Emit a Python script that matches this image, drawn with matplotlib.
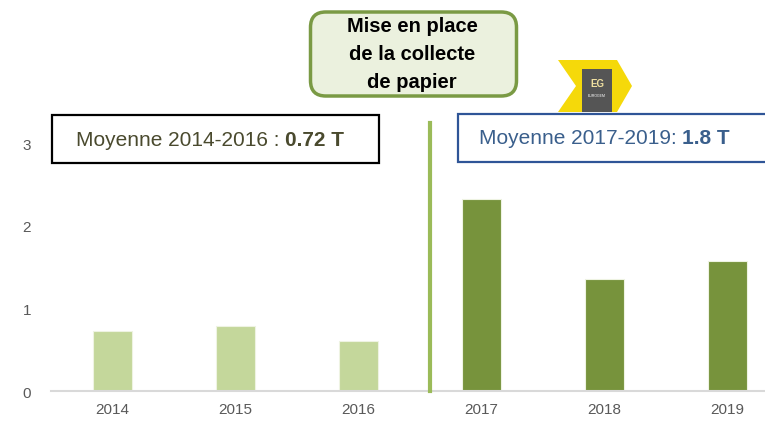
import numpy as np
import matplotlib
matplotlib.use("Agg")
import matplotlib.pyplot as plt
from matplotlib.patches import FancyBboxPatch, Rectangle, Polygon

years = ["2014", "2015", "2016", "2017", "2018", "2019"]
tonnes = [0.73, 0.79, 0.61, 2.33, 1.36, 1.58]
bar_colors = ["#c4d79b", "#c4d79b", "#c4d79b", "#77933c", "#77933c", "#77933c"]
yticks = [0, 1, 2, 3]
avg_before = ("Moyenne 2014-2016 : ", "0.72 T")
avg_after = ("Moyenne 2017-2019: ", "1.8 T")
event_lines = ["Mise en place", "de la collecte", "de papier"]
event_x = 2.58
event_top = 3.24

W, H = 765, 427
plt.rcParams['font.family'] = ['Liberation Sans', 'DejaVu Sans']

fig = plt.figure(figsize=(W / 100, H / 100), dpi=100)

def fx(x):
    return x / W

def fy(y):
    return 1 - y / H

# axes placed in pixel terms (right side runs past the image like the original)
ax = fig.add_axes([fx(51.3), fy(392.3), 737.4 / W, 3.5 * 82.7 / H])
x = np.arange(len(years))
ax.bar(x, tonnes, width=0.317, color=bar_colors, edgecolor="#eef3e2", linewidth=0.8, zorder=2)
ax.set_xlim(-0.5, len(years) - 0.5)
ax.set_ylim(0, 3.5)
ax.set_xticks(x)
ax.set_xticklabels(years)
ax.set_yticks(yticks)
for s in ["top", "right", "left"]:
    ax.spines[s].set_visible(False)
ax.spines["bottom"].set_color("#d9d9d9")
ax.spines["bottom"].set_linewidth(1.5)
ax.tick_params(axis="both", length=0, labelsize=11, labelcolor="#595959")
ax.tick_params(axis="x", pad=8)
ax.tick_params(axis="y", pad=14.5)

ax.plot([event_x, event_x], [0, event_top], color="#9bbb59", linewidth=3, zorder=3, clip_on=False)

# boxes with averages
fig.patches.append(Rectangle((fx(51.5), fy(163.5)), 327.5 / W, 47.5 / H, transform=fig.transFigure,
                             facecolor="white", edgecolor="black", linewidth=1.6))
fig.patches.append(Rectangle((fx(458), fy(163)), 330 / W, 48 / H, transform=fig.transFigure,
                             facecolor="white", edgecolor="#2f5597", linewidth=1.6))

fig.canvas.draw()
r = fig.canvas.get_renderer()

def two_part(x0, yc, parts, color, size):
    t1 = fig.text(fx(x0), fy(yc), parts[0], color=color, fontsize=size, va="center")
    bb = t1.get_window_extent(renderer=r)
    fig.text(bb.x1 / W, fy(yc), parts[1], color=color, fontsize=size, fontweight="bold", va="center")

two_part(76, 141, avg_before, "#4a4a2e", 15)
two_part(479, 139, avg_after, "#3a5f8c", 15)

# event box
fig.patches.append(FancyBboxPatch((fx(310.5), fy(97)), 206 / W, 84 / H, transform=fig.transFigure,
                                  boxstyle="round,pad=0,rounding_size=0.02",
                                  facecolor="#ebf1de", edgecolor="#7a9a44", linewidth=2.5,
                                  mutation_aspect=W / H))
for i, line in enumerate(event_lines):
    fig.text(fx(412), fy(27 + i * 27.5), line, fontsize=14.5, fontweight="bold", ha="center", va="center")

# logo
logo = [(558, 61), (617, 61), (632, 87), (617, 113), (558, 113), (576, 87)]
fig.patches.append(Polygon([(fx(a), fy(b)) for a, b in logo], closed=True, transform=fig.transFigure,
                           facecolor="#f5d90a", edgecolor="none"))
fig.patches.append(Rectangle((fx(582), fy(113)), 30 / W, 43 / H, transform=fig.transFigure,
                             facecolor="#555555", edgecolor="none"))
fig.text(fx(597), fy(84), "EG", fontsize=7, color="#f0e0a0", ha="center", va="center", fontweight="bold")
fig.text(fx(597), fy(96), "EUROGEM", fontsize=2.5, color="white", ha="center", va="center")

fig.savefig("out.png", dpi=100)
